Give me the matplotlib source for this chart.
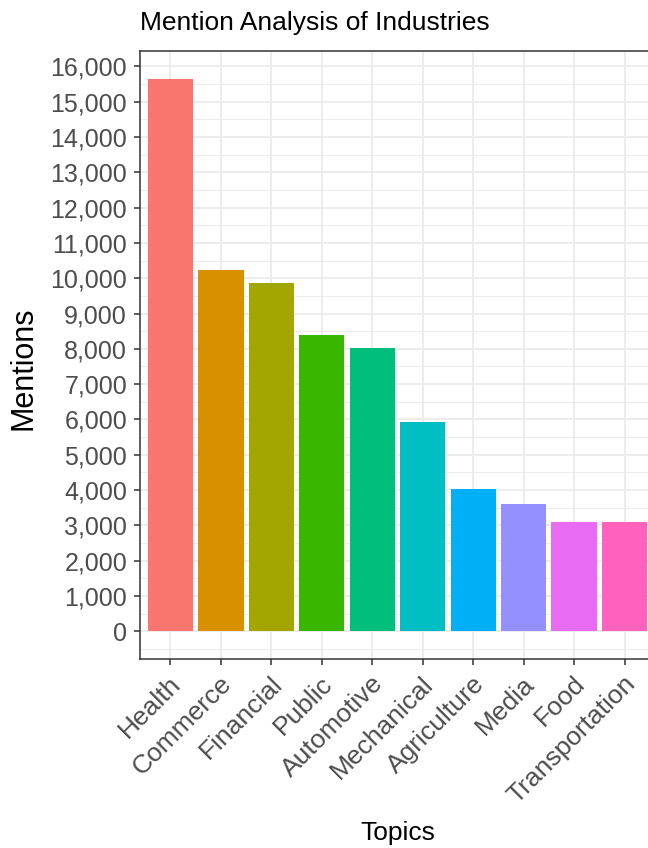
import matplotlib
matplotlib.use("Agg")
import matplotlib.pyplot as plt
from matplotlib.ticker import MultipleLocator, FuncFormatter
from matplotlib.transforms import ScaledTranslation

topics = ["Health", "Commerce", "Financial", "Public", "Automotive",
          "Mechanical", "Agriculture", "Media", "Food", "Transportation"]
mentions = [15650, 10220, 9870, 8400, 8020, 5920, 4040, 3610, 3110, 3090]
colors = ["#F8766D", "#D89000", "#A3A500", "#39B600", "#00BF7D",
          "#00BFC4", "#00B0F6", "#9590FF", "#E76BF3", "#FF62BC"]

plt.rcParams['font.family'] = ['Liberation Sans', 'DejaVu Sans']

W, H = 648, 848
fig = plt.figure(figsize=(W / 100, H / 100), dpi=100)
left, right, top, bottom = 140, 655, 51, 659
ax = fig.add_axes([left / W, 1 - bottom / H, (right - left) / W, (bottom - top) / H])

x = list(range(len(topics)))
ax.bar(x, mentions, width=0.9, color=colors, zorder=3)

ymax = max(mentions)
ax.set_ylim(-0.05 * ymax, 1.05 * ymax)
ax.set_xlim(-0.6, len(topics) - 1 + 0.6)

ax.yaxis.set_major_locator(MultipleLocator(1000))
ax.yaxis.set_minor_locator(MultipleLocator(500))
ax.yaxis.set_major_formatter(FuncFormatter(lambda v, p: f"{int(v):,}"))
ax.set_xticks(x)
ax.set_xticklabels([])

# rotated category labels (ggplot angle=45, hjust=1, vjust=1)
lab_tr = ax.get_xaxis_transform() + ScaledTranslation(0.12, -0.26, fig.dpi_scale_trans)
for xi, name in zip(x, topics):
    ax.text(xi, 0, name, transform=lab_tr, rotation=45, rotation_mode='anchor',
            ha='right', va='baseline', fontsize=19, color='#4D4D4D', clip_on=False)

ax.grid(True, which='major', color='#EBEBEB', linewidth=1.3, zorder=0)
ax.grid(True, which='minor', axis='y', color='#EBEBEB', linewidth=0.7, zorder=0)
ax.set_axisbelow(True)

for s in ax.spines.values():
    s.set_color('#333333')
    s.set_linewidth(1.1)

ax.tick_params(axis='both', which='major', length=4.3, width=1.1,
               color='#333333', labelcolor='#4D4D4D', labelsize=18, pad=5)
ax.tick_params(axis='y', which='minor', length=0)

fig.text(left / W, 1 - 30 / H, "Mention Analysis of Industries", fontsize=19,
         ha='left', va='baseline', color='black')
fig.text(398 / W, 1 - 840 / H, "Topics", fontsize=19, ha='center',
         va='baseline', color='black')
fig.text(23 / W, 1 - 368 / H, "Mentions", fontsize=22, ha='center',
         va='center', rotation=90, color='black', rotation_mode='anchor')

fig.savefig("out.png", dpi=100)
